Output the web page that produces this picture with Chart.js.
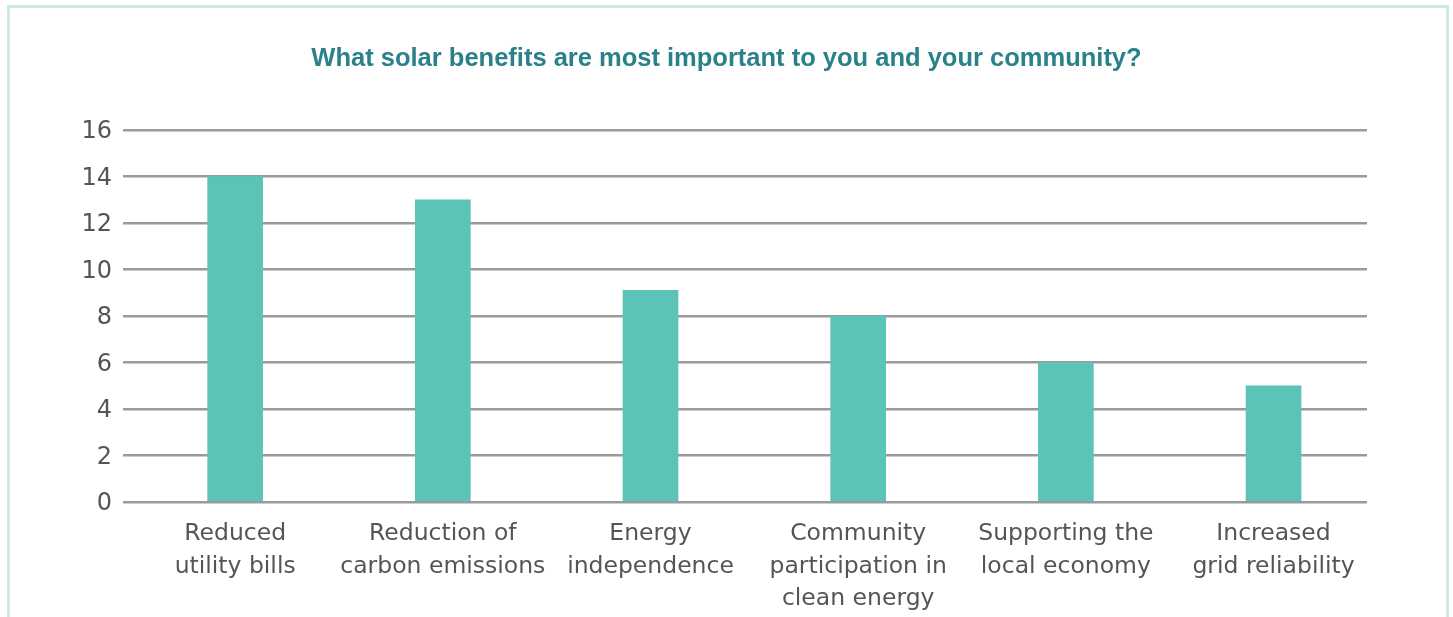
<!DOCTYPE html>
<html>
<head>
<meta charset="utf-8">
<script src="https://cdn.jsdelivr.net/npm/chart.js@4.4.1/dist/chart.umd.min.js"></script>
<style>
  html, body { margin: 0; padding: 0; background: #fff; overflow: hidden; }
  #frame { position: absolute; left: 7px; top: 5px; width: 1436px; height: 700px; border: 3px solid #CBEAE6; }
  #wrap { position: absolute; left: 0; top: 0; width: 1453px; height: 617px; }
</style>
</head>
<body>
<div id="frame"></div>
<div id="wrap"><canvas id="c"></canvas></div>
<script>
const chartTitle = "What solar benefits are most important to you and your community?";
const categories = [
  ["Reduced", "utility bills"],
  ["Reduction of", "carbon emissions"],
  ["Energy", "independence"],
  ["Community", "participation in", "clean energy"],
  ["Supporting the", "local economy"],
  ["Increased", "grid reliability"]
];
const values = [14, 13, 9.1, 8, 6, 5];
const yTicks = [0, 2, 4, 6, 8, 10, 12, 14, 16];

const points = values.map((v, i) => ({ x: i, y: v }));

new Chart(document.getElementById('c'), {
  type: 'bar',
  data: {
    datasets: [{
      data: points,
      backgroundColor: '#5BC4B6',
      borderWidth: 0,
      barThickness: 55
    }]
  },
  options: {
    responsive: true,
    maintainAspectRatio: false,
    animation: false,
    layout: { padding: 0 },
    plugins: {
      legend: { display: false },
      tooltip: { enabled: false },
      title: {
        display: true,
        text: chartTitle,
        color: '#2A8189',
        font: { family: 'Liberation Sans', size: 25.5, weight: 'bold', lineHeight: 1.2 },
        padding: { top: 44, bottom: 55.4 }
      }
    },
    scales: {
      x: {
        type: 'linear',
        offset: false,
        min: -0.54,
        max: 5.45,
        grid: { display: false, drawTicks: false },
        border: { display: false },
        afterBuildTicks: (s) => { s.ticks = categories.map((_, i) => ({ value: i })); },
        afterFit: (s) => { s.height = 115; },
        ticks: {
          autoSkip: false,
          maxRotation: 0,
          padding: 16,
          color: '#555',
          font: { family: 'DejaVu Sans', size: 23.5, lineHeight: 1.38 },
          callback: (v) => categories[v]
        }
      },
      y: {
        min: 0,
        max: 16,
        afterBuildTicks: (s) => { s.ticks = yTicks.map(v => ({ value: v })); },
        afterFit: (s) => { s.width = 123; },
        grid: { color: '#9A9A9A', lineWidth: 2.5, drawTicks: false },
        border: { display: false },
        ticks: {
          padding: 11,
          labelOffset: 2,
          color: '#555',
          font: { family: 'DejaVu Sans', size: 24 }
        }
      },
      yRight: {
        position: 'right',
        min: 0,
        max: 16,
        grid: { display: false, drawTicks: false },
        border: { display: false },
        ticks: { display: false },
        afterFit: (s) => { s.width = 86; }
      }
    }
  }
});
</script>
</body>
</html>
